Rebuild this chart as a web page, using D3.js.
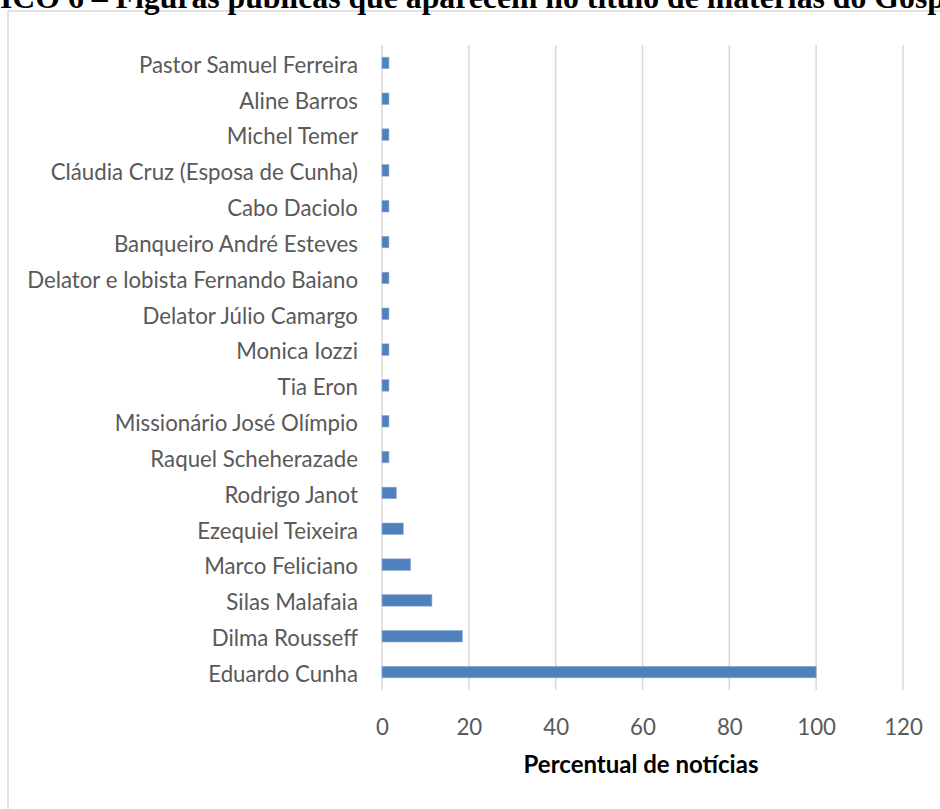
<!DOCTYPE html>
<html>
<head>
<meta charset="utf-8">
<script src="https://cdn.jsdelivr.net/npm/d3@7"></script>
<style>
  body { margin: 0; background: #fff; }
  svg { display: block; }
</style>
</head>
<body>
<div id="chart"></div>
<script>
// data
var names = [
    "Pastor Samuel Ferreira", "Aline Barros", "Michel Temer",
    "Cláudia Cruz (Esposa de Cunha)", "Cabo Daciolo", "Banqueiro André Esteves",
    "Delator e lobista Fernando Baiano", "Delator Júlio Camargo", "Monica Iozzi",
    "Tia Eron", "Missionário José Olímpio", "Raquel Scheherazade",
    "Rodrigo Janot", "Ezequiel Teixeira", "Marco Feliciano",
    "Silas Malafaia", "Dilma Rousseff", "Eduardo Cunha"
];
var percent = [1.6, 1.6, 1.6, 1.6, 1.6, 1.6, 1.6, 1.6, 1.6, 1.6, 1.6, 1.6,
    3.3, 4.9, 6.6, 11.5, 18.5, 100];
var xTicks = [0, 20, 40, 60, 80, 100, 120];
var titleText = "GRÁFICO 6 – Figuras públicas que aparecem no título de matérias do Gospel Prime";
var axisTitle = "Percentual de notícias";

var width = 940, height = 809;
var labelFont = "Lato, 'Open Sans', sans-serif";
var serif = "'Liberation Serif', 'Times New Roman', serif";

var svg = d3.select("#chart").append("svg")
    .attr("width", width)
    .attr("height", height);

// chart area frame (runs off the picture on the right and bottom)
svg.append("rect")
    .attr("x", 8).attr("y", 11)
    .attr("width", 960).attr("height", 820)
    .attr("fill", "#fff")
    .attr("stroke", "#d9d9d9")
    .attr("stroke-width", 1.5);

// helper to measure a bold serif string at 24px
function measure(str) {
    var t = svg.append("text")
        .attr("font-family", serif)
        .attr("font-weight", "bold")
        .attr("font-size", 24)
        .text(str);
    var w = t.node().getComputedTextLength();
    t.remove();
    return w;
}

// title, cut off at the top like the source:
// "ICO 6 ... do Gosp" spans the whole picture width
var wPre = measure("GRÁF");
var wVis = measure("ICO 6 – Figuras públicas que aparecem no título de matérias do Gosp");
var tfs = 24 * 945 / wVis;
svg.append("text")
    .attr("x", -wPre * tfs / 24)
    .attr("y", 7.5)
    .attr("font-family", serif)
    .attr("font-weight", "bold")
    .attr("font-size", tfs)
    .attr("fill", "#000")
    .text(titleText);

var x = d3.scaleLinear().domain([0, 120]).range([382, 903]);
var y = d3.scaleBand().domain(names).range([45, 690])
    .paddingInner(0.68).paddingOuter(0.34);

// gridlines
svg.append("g")
    .selectAll("line")
    .data(xTicks)
    .join("line")
    .attr("x1", d => x(d)).attr("x2", d => x(d))
    .attr("y1", 45).attr("y2", 690)
    .attr("stroke", "#d9d9d9")
    .attr("stroke-width", 1.5);

// bars
svg.append("g")
    .selectAll("rect")
    .data(names)
    .join("rect")
    .attr("x", x(0))
    .attr("y", d => y(d))
    .attr("width", (d, i) => x(percent[i]) - x(0))
    .attr("height", y.bandwidth())
    .attr("fill", "#4f81bd")
    .attr("stroke", "#8eaad6")
    .attr("stroke-width", 0.6);

// category labels
var labels = svg.append("g")
    .selectAll("text")
    .data(names)
    .join("text")
    .attr("x", 358)
    .attr("y", d => y(d) + y.bandwidth() / 2 + 2)
    .attr("dy", "0.35em")
    .attr("text-anchor", "end")
    .attr("font-family", labelFont)
    .attr("font-size", 18)
    .attr("fill", "#595959")
    .text(d => d);

// fit label size so the longest one spans like the source (~331px)
var longest = d3.max(labels.nodes(), n => n.getComputedTextLength());
var fs = 18 * 331 / longest;
labels.attr("font-size", fs);

// x axis tick labels
var xAxis = svg.append("g")
    .attr("transform", "translate(0,690)")
    .call(d3.axisBottom(x).tickValues(xTicks).tickSize(0).tickPadding(29));
xAxis.select(".domain").remove();
xAxis.selectAll("text")
    .attr("font-family", labelFont)
    .attr("font-size", fs)
    .attr("fill", "#595959");

// axis title
svg.append("text")
    .attr("x", 641)
    .attr("y", 765)
    .attr("dy", "0.35em")
    .attr("text-anchor", "middle")
    .attr("font-family", labelFont)
    .attr("font-weight", "bold")
    .attr("font-size", 24)
    .attr("fill", "#000")
    .text(axisTitle);
</script>
</body>
</html>
